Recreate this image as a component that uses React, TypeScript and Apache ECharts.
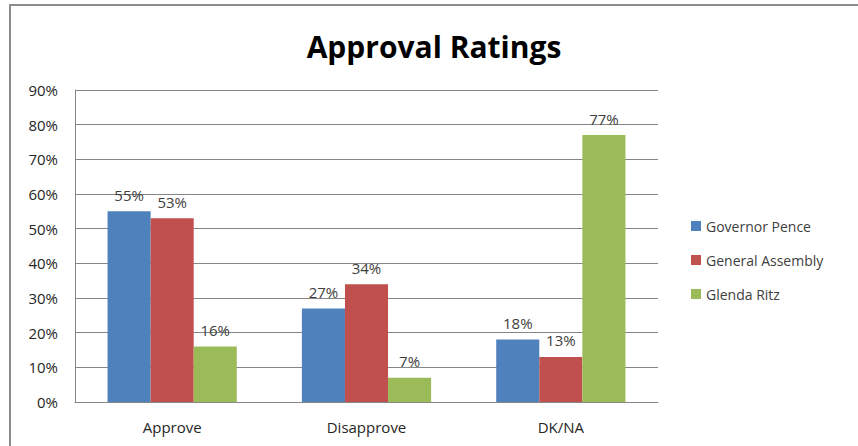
import React, { useEffect, useRef } from "react";
import * as echarts from "echarts";

const categories = ["Approve", "Disapprove", "DK/NA"];
const seriesNames = ["Governor Pence", "General Assembly", "Glenda Ritz"];
const pence = [55, 27, 18];
const assembly = [53, 34, 13];
const ritz = [16, 7, 77];
const yTicks = [0, 10, 20, 30, 40, 50, 60, 70, 80, 90];
const colors = ["#4F81BD", "#C0504D", "#9BBB59"];

const FONT = "'Open Sans', 'Noto Sans', sans-serif";

export default function App() {
  const ref = useRef<HTMLDivElement>(null);
  useEffect(() => {
    if (!ref.current) return;
    const chart = echarts.init(ref.current, null, { renderer: "svg" });
    const data = [pence, assembly, ritz];
    chart.setOption({
      animation: false,
      backgroundColor: "#ffffff",
      graphic: [
        {
          type: "rect",
          shape: { x: 10, y: 5, width: 870, height: 460 },
          style: { fill: "none", stroke: "#8c8c8c", lineWidth: 2 },
          silent: true,
        },
      ],
      title: {
        text: "Approval Ratings",
        left: 429,
        top: 26,
        textAlign: "center",
        textStyle: { fontFamily: FONT, fontSize: 30, fontWeight: "bold", color: "#000" },
      },
      legend: {
        orient: "vertical",
        left: 686,
        top: 214,
        itemWidth: 10,
        itemHeight: 10,
        itemGap: 20,
        icon: "rect",
        textStyle: { fontFamily: FONT, fontSize: 14, color: "#404040" },
        data: seriesNames,
      },
      grid: { left: 75, top: 90, right: 200, bottom: 44, containLabel: false },
      xAxis: {
        type: "category",
        data: categories,
        axisLine: { lineStyle: { color: "#868686", width: 1 } },
        axisTick: { show: false },
        axisLabel: { fontFamily: FONT, fontSize: 15, color: "#262626", margin: 17 },
      },
      yAxis: {
        type: "value",
        min: 0,
        max: 90,
        interval: 10,
        axisLine: { show: true, lineStyle: { color: "#868686", width: 1 } },
        axisTick: { show: false },
        splitLine: { lineStyle: { color: "#868686", width: 1 } },
        axisLabel: {
          fontFamily: FONT,
          fontSize: 15,
          color: "#262626",
          margin: 17,
          formatter: (v: number) => (yTicks.includes(v) ? v + "%" : ""),
        },
      },
      series: seriesNames.map((name, i) => ({
        name,
        type: "bar",
        data: data[i],
        barGap: "0%",
        barCategoryGap: "33.5%",
        itemStyle: { color: colors[i] },
        label: {
          show: true,
          position: "top",
          distance: 9,
          formatter: "{c}%",
          fontFamily: FONT,
          fontSize: 15,
          color: "#404040",
        },
      })),
    });
    return () => chart.dispose();
  }, []);
  return (
    <div style={{ position: "fixed", left: 0, top: 0, width: 858, height: 446, background: "#fff" }}>
      <div ref={ref} style={{ width: 858, height: 446 }} />
    </div>
  );
}
